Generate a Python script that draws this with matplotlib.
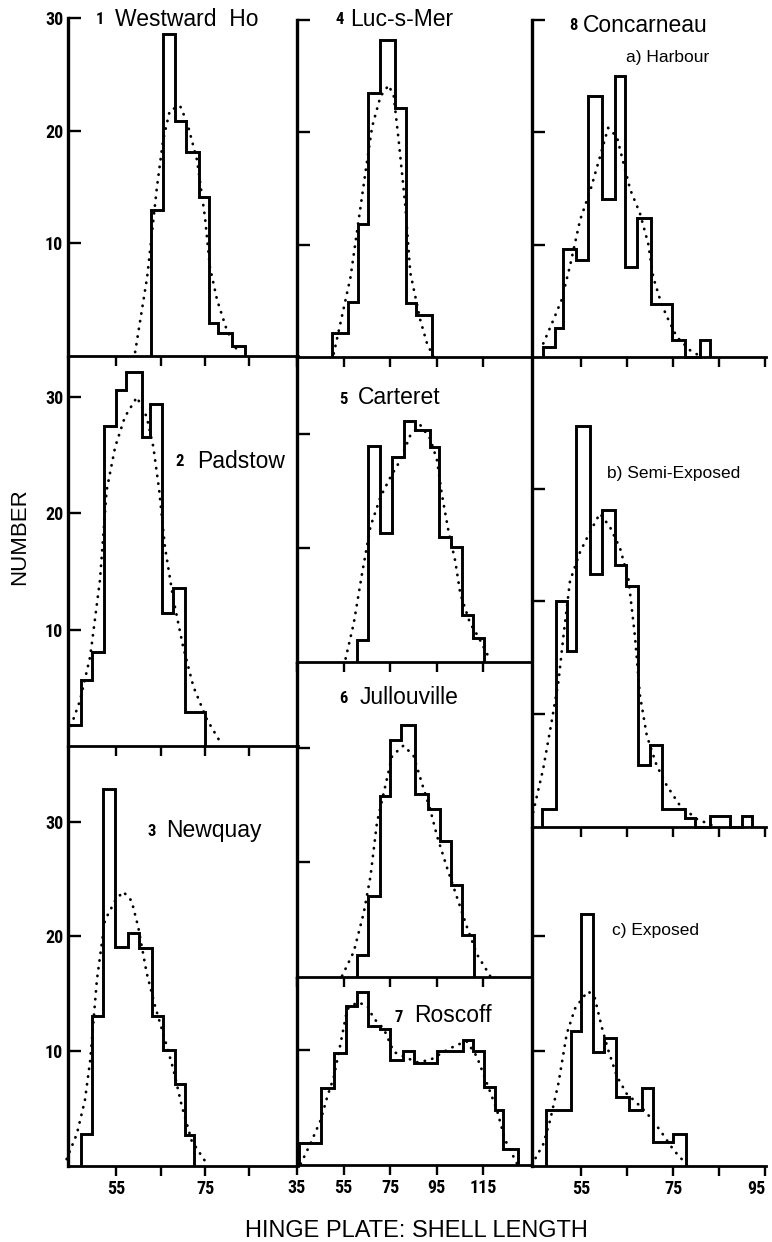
import matplotlib
matplotlib.use("Agg")
import matplotlib.pyplot as plt
import matplotlib.font_manager as fm

# ---------------- data ----------------
# 1 Westward Ho
edges_1 = [62.9, 65.6, 68.3, 70.7, 73.7, 75.9, 77.9, 81.1, 84.0]
counts_1 = [13.0, 28.6, 20.9, 18.1, 14.1, 2.9, 2.0, 0.9]
curve_1_x = [59.3, 62.0, 64.2, 65.6, 67.1, 69.4, 71.0, 73.2, 75.0, 76.1, 77.7, 79.9, 82.2]
curve_1_y = [0.35, 7.0, 15.0, 19.2, 21.8, 22.2, 20.7, 17.4, 12.3, 7.9, 5.0, 2.3, 0.5]

# 2 Padstow
edges_2 = [44.3, 47.1, 49.5, 52.3, 55.0, 57.2, 60.8, 62.6, 65.4, 67.7, 70.5, 75.0]
counts_2 = [1.8, 5.7, 8.1, 27.5, 30.6, 32.2, 26.6, 29.4, 11.4, 13.6, 2.9]
curve_2_x = [44.3, 46.9, 49.2, 51.4, 52.9, 54.8, 57.0, 59.7, 61.9, 63.4, 64.7, 66.0, 67.9, 70.1, 72.4, 75.4, 78.8]
curve_2_y = [1.1, 3.9, 7.7, 14.3, 22.0, 25.7, 28.3, 30.0, 28.3, 25.7, 22.0, 17.1, 12.6, 8.5, 5.1, 2.3, 0.1]

# 3 Newquay
edges_3 = [47.07, 49.52, 52.0, 54.78, 57.63, 60.24, 63.02, 65.63, 68.26, 70.51, 72.6]
counts_3 = [2.8, 13.1, 32.8, 19.1, 20.3, 19.0, 13.1, 10.1, 7.1, 2.7]
curve_3_x = [43.9, 46.2, 48.0, 49.2, 50.7, 52.5, 54.8, 56.6, 58.5, 60.0, 61.9, 63.8, 66.0, 67.9, 69.8, 72.0, 75.4]
curve_3_y = [0.6, 2.8, 5.7, 9.2, 16.2, 21.4, 23.1, 23.9, 23.1, 20.8, 16.8, 13.9, 11.0, 8.4, 5.2, 2.2, 0.2]

# 4 Luc-s-Mer
edges_4 = [50.2, 56.8, 61.3, 65.6, 70.6, 77.3, 82.0, 86.3, 93.0]
counts_4 = [2.1, 4.9, 11.8, 23.5, 28.2, 22.2, 4.8, 3.7]
curve_4_x = [50.8, 58.0, 64.4, 67.3, 70.9, 74.4, 76.6, 78.7, 81.6, 83.7, 88.0, 90.9, 93.7]
curve_4_y = [0.3, 7.1, 16.4, 20.5, 23.2, 24.2, 23.2, 19.3, 13.4, 7.5, 3.3, 1.2, 0.0]

# 5 Carteret
edges_5 = [60.9, 65.4, 70.6, 75.9, 80.8, 85.9, 92.0, 96.1, 101.2, 105.9, 110.8, 115.4]
counts_5 = [1.9, 19.0, 11.3, 18.0, 21.2, 20.4, 18.9, 11.0, 10.1, 4.1, 2.1]
curve_5_x = [55.9, 59.4, 63.0, 66.6, 70.9, 75.1, 79.4, 83.7, 88.0, 92.3, 95.2, 97.3, 100.2, 103.0, 105.2, 109.4, 113.0, 118.0]
curve_5_y = [0.3, 3.4, 7.8, 11.9, 14.5, 16.2, 17.7, 19.9, 20.8, 19.6, 17.7, 14.7, 11.4, 8.9, 6.0, 3.4, 2.2, 0.2]

# 6 Jullouville
edges_6 = [60.87, 65.42, 70.56, 75.15, 79.86, 85.86, 91.3, 96.28, 101.29, 105.88, 111.15]
counts_6 = [1.9, 7.1, 15.8, 20.7, 22.0, 16.0, 14.7, 11.9, 8.0, 3.7]
curve_6_x = [54.4, 59.4, 63.7, 66.6, 69.4, 73.0, 75.9, 80.8, 85.1, 88.7, 92.3, 95.2, 99.4, 103.7, 108.0, 112.3, 118.0]
curve_6_y = [0.1, 2.2, 5.6, 8.8, 13.5, 16.7, 19.3, 20.2, 19.3, 16.9, 14.6, 12.3, 9.6, 7.0, 4.4, 2.0, 0.1]

# 7 Roscoff
edges_7 = [35.84, 45.44, 50.84, 55.86, 60.87, 65.42, 70.56, 75.15, 80.59, 85.13, 95.16,
           106.31, 110.85, 115.44, 120.15, 123.71, 130.14]
counts_7 = [1.9, 6.7, 9.7, 13.8, 15.0, 12.0, 11.8, 9.1, 9.9, 8.8, 9.9, 10.8, 9.9, 6.8, 4.8, 1.4]
curve_7_x = [36.6, 40.9, 45.2, 48.0, 50.8, 53.7, 56.6, 60.9, 65.2, 68.0, 72.3, 76.6, 80.8, 86.6,
             92.3, 98.0, 103.7, 108.0, 112.3, 116.6, 120.9, 124.4, 129.5]
curve_7_y = [0.1, 1.9, 3.9, 5.9, 7.6, 10.5, 13.5, 14.1, 13.8, 12.7, 11.8, 9.8, 9.4, 8.9,
             9.1, 9.8, 10.4, 10.7, 9.4, 7.1, 4.8, 2.2, 0.15]

# 8 Concarneau a) Harbour
edges_8a = [46.67, 49.35, 51.15, 53.91, 56.59, 59.5, 62.39, 64.57, 67.24, 70.15, 74.85, 77.61, 80.87, 83.04]
counts_8a = [0.9, 2.6, 9.6, 8.6, 23.2, 14.1, 25.0, 8.0, 12.4, 4.7, 1.5, 0.0, 1.5]
curve_8a_x = [46.8, 49.0, 50.8, 52.6, 54.8, 57.0, 59.1, 60.9, 62.8, 64.2, 65.7, 67.8, 69.6, 70.7,
              72.5, 74.0, 75.8, 78.7, 81.2]
curve_8a_y = [1.2, 3.3, 5.1, 8.1, 12.2, 14.8, 17.8, 20.4, 19.6, 17.3, 14.9, 12.8, 10.1, 7.1,
              4.7, 3.3, 1.8, 0.6, 0.0]

# 8 b) Semi-Exposed
edges_8b = [46.46, 49.57, 51.89, 53.91, 56.96, 59.5, 62.39, 64.78, 67.46, 70.0, 72.54, 77.61,
            79.78, 83.04, 87.39, 89.93, 92.1]
counts_8b = [1.6, 20.0, 15.6, 35.6, 22.4, 28.1, 23.2, 21.4, 5.5, 7.3, 1.6, 0.8, 0.0, 1.0, 0.0, 1.0]
curve_8b_x = [44.6, 46.8, 48.6, 50.1, 51.2, 52.6, 54.8, 57.0, 59.1, 61.3, 63.5, 65.3, 66.7, 67.8,
              69.3, 71.4, 73.6, 76.5, 80.2, 83.8]
curve_8b_y = [1.3, 5.2, 9.3, 12.9, 17.0, 21.8, 24.4, 26.2, 27.8, 26.6, 24.7, 22.0, 17.0, 11.7,
              8.1, 5.5, 3.7, 1.9, 0.7, 0.1]

# 8 c) Exposed
edges_8c = [47.39, 52.76, 54.93, 57.54, 60.0, 62.61, 65.5, 68.2, 70.59, 74.93, 77.76]
counts_8c = [4.9, 11.7, 21.9, 9.9, 11.1, 6.0, 4.9, 6.8, 2.1, 2.8]
curve_8c_x = [44.3, 46.8, 48.3, 50.1, 51.9, 53.7, 55.5, 56.6, 58.0, 59.5, 60.9, 62.8, 64.9, 67.1,
              69.3, 72.2, 75.1, 78.0]
curve_8c_y = [0.1, 1.9, 4.0, 7.2, 11.5, 13.7, 14.7, 15.2, 14.6, 12.1, 10.1, 7.8, 6.3, 5.5,
              4.6, 3.1, 1.4, 0.1]

y_tick_values = [10, 20, 30]
col1_xticks = [55, 65, 75, 85]
col1_xticklabels = ["55", "", "75", ""]
col2_xticks = [35, 55, 75, 95, 115]
col2_xticklabels = ["35", "55", "75", "95", "115"]
col3_xticks = [55, 65, 75, 85, 95]
col3_xticklabels = ["55", "", "75", "", "95"]

# ---------------- fonts ----------------
names = {f.name for f in fm.fontManager.ttflist}
SANS = "Liberation Sans" if "Liberation Sans" in names else "DejaVu Sans"
NARROW = None
for cand in ["Liberation Sans Narrow", "Roboto Condensed", "Open Sans Condensed",
             "Noto Sans Condensed", "DejaVu Sans Condensed"]:
    if cand in names:
        NARROW = cand
        break
if NARROW is None:
    NARROW_KW = dict(fontfamily="DejaVu Sans", fontstretch="condensed", fontweight="bold")
    NSIZE, NUMSIZE = 11, 11
else:
    NARROW_KW = dict(fontfamily=NARROW, fontweight="bold")
    NSIZE, NUMSIZE = 13, 12

# ---------------- layout ----------------
W, H = 772, 1242
fig = plt.figure(figsize=(W / 100, H / 100), dpi=100)
fig.patch.set_facecolor("white")

COLS = {
    1: (68, 298, (44.21, 95.9), col1_xticks, col1_xticklabels),
    2: (297, 531, (35.0, 135.6), col2_xticks, col2_xticklabels),
    3: (532, 766, (44.35, 95.2), col3_xticks, col3_xticklabels),
}

panels = [
    # edges, counts, cx, cy, col, ytop, ybot, ymax, bottom-row
    (edges_1, counts_1, curve_1_x, curve_1_y, 1, 18, 356, 30.0, False),
    (edges_2, counts_2, curve_2_x, curve_2_y, 1, 357, 746, 33.45, False),
    (edges_3, counts_3, curve_3_x, curve_3_y, 1, 747, 1166, 36.5, True),
    (edges_4, counts_4, curve_4_x, curve_4_y, 2, 20, 357, 30.0, False),
    (edges_5, counts_5, curve_5_x, curve_5_y, 2, 359, 662, 26.6, False),
    (edges_6, counts_6, curve_6_x, curve_6_y, 2, 663, 977, 27.4, False),
    (edges_7, counts_7, curve_7_x, curve_7_y, 2, 978, 1165, 16.2, True),
    (edges_8a, counts_8a, curve_8a_x, curve_8a_y, 3, 20, 357, 30.0, False),
    (edges_8b, counts_8b, curve_8b_x, curve_8b_y, 3, 359, 827, 41.5, False),
    (edges_8c, counts_8c, curve_8c_x, curve_8c_y, 3, 828, 1166, 29.4, True),
]

for edges, counts, cx, cy, col, ytop, ybot, ymax, bottom in panels:
    x0, x1, xlim, xt, xtl = COLS[col]
    ax = fig.add_axes([x0 / W, 1 - ybot / H, (x1 - x0) / W, (ybot - ytop) / H])
    ax.patch.set_visible(False)
    ax.set_xlim(*xlim)
    ax.set_ylim(0, ymax)
    for s in ("top", "right"):
        ax.spines[s].set_visible(False)
    ax.spines["left"].set_linewidth(2.4)
    ax.spines["bottom"].set_linewidth(2.0)
    ax.stairs(counts, edges, baseline=0, color="black", linewidth=2.1, clip_on=False)
    ax.plot(cx, cy, color="black", linewidth=2.0, linestyle=(0, (0.1, 2.7)),
            dash_capstyle="round", clip_on=False)
    ax.set_yticks([v for v in y_tick_values if v <= ymax + 0.01])
    ax.tick_params(axis="y", direction="in", length=9, width=1.7, pad=3.5,
                   labelleft=(col == 1))
    ax.set_xticks(xt)
    ax.tick_params(axis="x", direction="out", length=7, width=1.7, pad=3,
                   labelbottom=bottom)
    if col == 1:
        ax.set_yticklabels([str(v) for v in ax.get_yticks().astype(int)],
                           fontsize=NSIZE, **NARROW_KW)
    if bottom:
        labs = ax.set_xticklabels(xtl, fontsize=NSIZE, **NARROW_KW)
        if col == 3:
            labs[-1].set_horizontalalignment("right")


def ptext(x, y, s, **kw):
    fig.text(x / W, 1 - y / H, s, **kw)


TITLE = dict(fontfamily=SANS, fontsize=16.5, ha="left", va="baseline")
SUB = dict(fontfamily=SANS, fontsize=12.5, ha="left", va="baseline")
NUM = dict(fontsize=NUMSIZE, ha="center", va="center", **NARROW_KW)

ptext(100, 20, "1", **NUM)
ptext(115, 26, "Westward  Ho", **TITLE)
ptext(340, 19, "4", **NUM)
ptext(350, 26, "Luc-s-Mer", **TITLE)
ptext(573, 26, "8", **NUM)
ptext(583, 32, "Concarneau", **TITLE)
ptext(626, 62, "a) Harbour", **SUB)
ptext(180, 462, "2", **NUM)
ptext(197, 468, "Padstow", **TITLE)
ptext(152, 831, "3", **NUM)
ptext(166, 837, "Newquay", **TITLE)
ptext(343, 399, "5", **NUM)
ptext(358, 404, "Carteret", **TITLE)
ptext(343, 698, "6", **NUM)
ptext(360, 704, "Jullouville", **TITLE)
ptext(399, 1017, "7", **NUM)
ptext(414, 1022, "Roscoff", **TITLE)
ptext(607, 478, "b) Semi-Exposed", **SUB)
ptext(612, 935, "c) Exposed", **SUB)

ptext(20, 537, "NUMBER", fontfamily=SANS, fontsize=16, rotation=90, ha="center", va="center")
ptext(416, 1237, "HINGE PLATE: SHELL LENGTH", fontfamily=SANS, fontsize=17,
      ha="center", va="baseline")

fig.savefig("out.png", dpi=100, facecolor="white")
